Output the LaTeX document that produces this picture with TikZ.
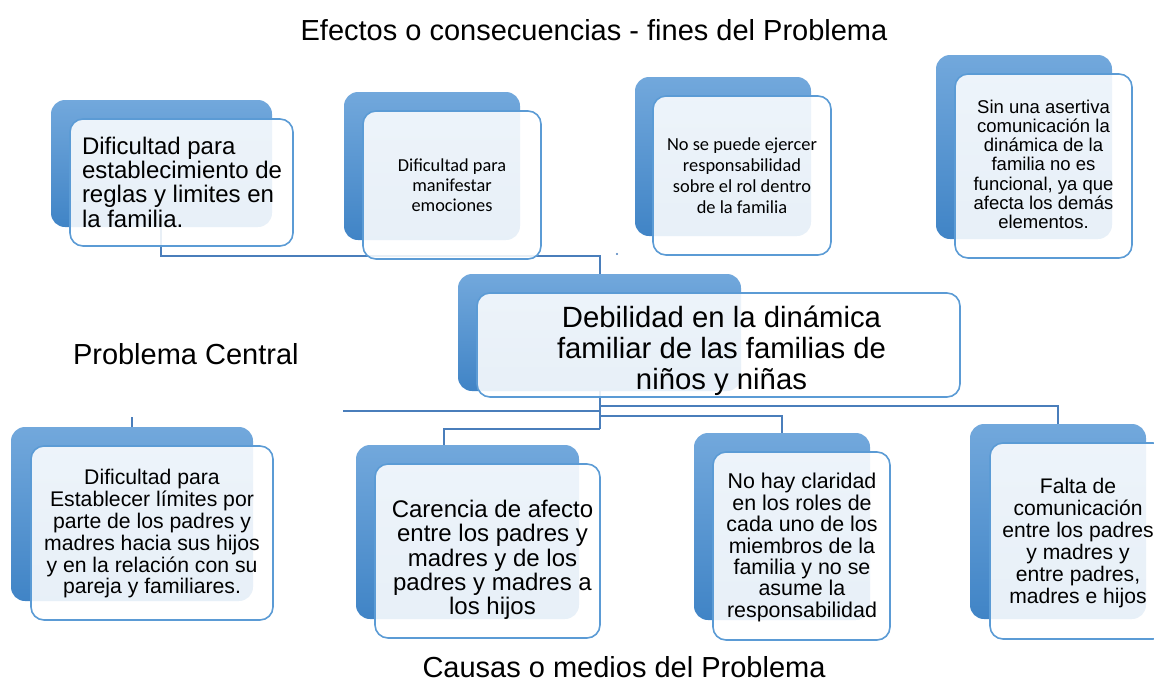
\documentclass[tikz,border=0pt]{standalone}
\usepackage{fontspec}
\setmainfont{Liberation Sans}
\newfontfamily\calib{Carlito}
\definecolor{backtop}{RGB}{114,168,220}
\definecolor{backbot}{RGB}{64,132,198}
\definecolor{frontline}{RGB}{91,155,213}
\definecolor{connblue}{RGB}{74,126,187}
\begin{document}
\begin{tikzpicture}[x=1pt,y=-1pt,
  backbox/.style={inner sep=0pt,outer sep=0pt,rounded corners=14pt,top color=backtop,bottom color=backbot,draw=none},
  frontbox/.style={inner sep=0pt,outer sep=0pt,rounded corners=13pt,draw=frontline,line width=1.6pt,fill=white,fill opacity=0.88},
  conn/.style={draw=connblue,line width=2pt},
  txt/.style={inner sep=0pt,outer sep=0pt,align=center,text=black},
  sz/.style 2 args={font=\fontsize{#1}{#2}\selectfont}]
\useasboundingbox (0,0) rectangle (1154,681);
\clip (0,0) rectangle (1154,681);
% ---------- back boxes ----------
\node[backbox,minimum width=221pt,minimum height=127pt] (t1back) at (161.5,163.5) {};
\node[backbox,minimum width=176pt,minimum height=148pt] (t2back) at (432,166) {};
\node[backbox,minimum width=176pt,minimum height=159pt] (t3back) at (723,156.5) {};
\node[backbox,minimum width=176pt,minimum height=184pt] (t4back) at (1024,147) {};
\node[backbox,minimum width=283pt,minimum height=117pt] (cback) at (599.5,332.5) {};
\node[backbox,minimum width=242pt,minimum height=174pt] (b1back) at (132,514) {};
\node[backbox,minimum width=223pt,minimum height=174pt] (b2back) at (467.5,532) {};
\node[backbox,minimum width=176pt,minimum height=187pt] (b3back) at (782,526.5) {};
\node[backbox,minimum width=176pt,minimum height=195pt] (b4back) at (1058,521.5) {};
% ---------- connectors ----------
\coordinate (tj1) at (161,256);
\coordinate (tj2) at (599.5,256);
\draw[conn] (t1back.south -| tj1) -- (tj1) -- (tj2) -- (cback.north);
\fill[connblue] (617,254) circle (1.2pt);
\coordinate (bA) at (599.5,406);
\coordinate (bL) at (343,411);
\coordinate (bB) at (599.5,416);
\coordinate (bC) at (599.5,428.5);
\draw[conn] (cback.south) -- (bC);
\draw[conn] (bA) -| (b4back.north);
\draw[conn] (bB) -| (b3back.north);
\draw[conn] (bC) -| ([xshift=-23.5pt]b2back.north);
\draw[conn] (bL -| cback.south) -- (bL);
\draw[conn] (b1back.north) -- ++(0,-10);
% ---------- front boxes ----------
\node[frontbox,minimum width=223pt,minimum height=127pt] (t1) at (181.5,182.5) {};
\node[frontbox,minimum width=178pt,minimum height=148pt] (t2) at (452,185) {};
\node[frontbox,minimum width=178pt,minimum height=159pt] (t3) at (742,175.5) {};
\node[frontbox,minimum width=177pt,minimum height=184pt] (t4) at (1043.5,166) {};
\node[frontbox,minimum width=483pt,minimum height=104pt] (cfront) at (718.5,345) {};
\node[frontbox,minimum width=242pt,minimum height=174pt] (b1) at (152,533) {};
\node[frontbox,minimum width=225pt,minimum height=174pt] (b2) at (487.5,551) {};
\node[frontbox,minimum width=177pt,minimum height=188pt] (b3) at (801.5,546) {};
\node[frontbox,minimum width=176pt,minimum height=196pt] (b4) at (1078,541) {};
% ---------- texts ----------
\node[txt,sz={29}{31},anchor=base] (title) at (594,40) {Efectos o consecuencias - fines del Problema};
\node[txt,sz={29}{31},anchor=base west] (pc) at (73,364) {Problema Central};
\node[txt,sz={29}{31},anchor=base] (causas) at (624,677) {Causas o medios del Problema};
\node[txt,sz={24}{24.3},align=left,anchor=west] (t1t) at (82,182) {Dificultad para\\establecimiento de\\reglas y limites en\\la familia.};
\node[txt,font=\calib\fontsize{18.3}{20}\selectfont] (t2t) at (452,185) {Dificultad para\\manifestar\\emociones};
\node[txt,font=\calib\fontsize{18.4}{21}\selectfont] (t3t) at (742,175.5) {No se puede ejercer\\responsabilidad\\sobre el rol dentro\\de la familia};
\node[txt,sz={18.5}{19.3}] (t4t) at (1043.5,164.3) {Sin una asertiva\\comunicación la\\dinámica de la\\familia no es\\funcional, ya que\\afecta los demás\\elementos.};
\node[txt,sz={29.3}{31}] (ct) at (721.5,350.5) {Debilidad en la dinámica\\familiar de las familias de\\niños y niñas};
\node[txt,sz={21.2}{21.8}] (b1t) at (152,534) {Dificultad para\\Establecer límites por\\parte de los padres y\\madres hacia sus hijos\\y en la relación con su\\pareja y familiares.};
\node[txt,sz={24}{24.3}] (b2t) at (492.5,560) {Carencia de afecto\\entre los padres y\\madres y de los\\padres y madres a\\los hijos};
\node[txt,sz={21.4}{21.4}] (b3t) at (802,547.5) {No hay claridad\\en los roles de\\cada uno de los\\miembros de la\\familia y no se\\asume la\\responsabilidad};
\node[txt,sz={21.1}{22}] (b4t) at (1078,542.7) {Falta de\\comunicación\\entre los padres\\y madres y\\entre padres,\\madres e hijos};
\end{tikzpicture}
\end{document}
